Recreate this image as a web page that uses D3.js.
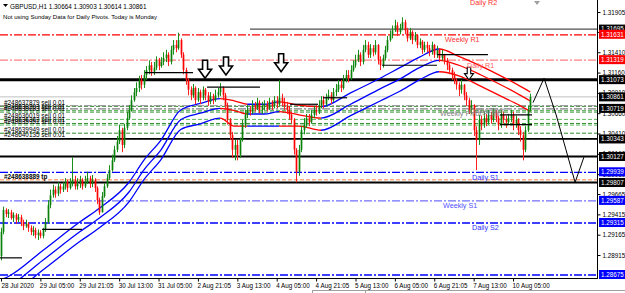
<!DOCTYPE html>
<html><head><meta charset="utf-8">
<script src="https://cdnjs.cloudflare.com/ajax/libs/d3/7.8.5/d3.min.js"></script>
<style>html,body{margin:0;padding:0;background:#fff;overflow:hidden}svg{display:block;font-family:"Liberation Sans",Arial,sans-serif}</style>
</head><body>
<svg id="chart" width="625" height="293"></svg>
<script>
// ================= DATA =================
const symbol = "GBPUSD,H1";
const headerQuote = ["1.30664", "1.30903", "1.30614", "1.30861"];
const infoText = "Not using Sunday Data for Daily Pivots.  Today is Monday";

// hourly candles (open of each bar = previous close)
const firstOpen = 1.2890;
const closes = [1.2920,1.2947,1.2942,1.2944,1.2937,1.2941,1.2935,1.2938,1.2932,1.2927,
1.2930,1.2925,1.2920,1.2922,1.2916,1.2919,1.2915,1.2922,1.2932,1.2953,
1.2965,1.2972,1.2967,1.2976,1.2972,1.2976,1.2981,1.2974,1.2979,1.2984,
1.2976,1.2979,1.2984,1.2976,1.2981,1.2986,1.2979,1.2984,1.2974,1.2959,
1.2944,1.2964,1.2976,1.2986,1.2996,1.3008,1.3021,1.3031,1.3045,1.3027,
1.3048,1.3060,1.3070,1.3082,1.3092,1.3097,1.3107,1.3101,1.3113,1.3119,
1.3125,1.3117,1.3122,1.3131,1.3124,1.3129,1.3134,1.3138,1.3129,1.3144,
1.3150,1.3146,1.3156,1.3138,1.3119,1.3107,1.3095,1.3088,1.3097,1.3082,
1.3092,1.3085,1.3095,1.3088,1.3080,1.3087,1.3082,1.3088,1.3092,1.3097,
1.3088,1.3076,1.3058,1.3039,1.3021,1.3027,1.3015,1.3033,1.3052,1.3064,
1.3070,1.3068,1.3076,1.3072,1.3079,1.3070,1.3075,1.3077,1.3072,1.3080,
1.3075,1.3082,1.3077,1.3085,1.3080,1.3075,1.3070,1.3064,1.3058,1.3021,
1.2994,1.3021,1.3045,1.3052,1.3060,1.3055,1.3064,1.3070,1.3068,1.3076,
1.3082,1.3077,1.3085,1.3088,1.3082,1.3092,1.3095,1.3101,1.3097,1.3107,
1.3113,1.3109,1.3119,1.3125,1.3131,1.3138,1.3129,1.3144,1.3150,1.3138,
1.3146,1.3141,1.3150,1.3131,1.3125,1.3134,1.3144,1.3156,1.3162,1.3168,
1.3174,1.3166,1.3171,1.3178,1.3168,1.3158,1.3166,1.3156,1.3162,1.3150,
1.3154,1.3144,1.3150,1.3146,1.3141,1.3150,1.3138,1.3144,1.3134,1.3138,
1.3131,1.3125,1.3119,1.3113,1.3107,1.3101,1.3095,1.3101,1.3088,1.3082,
1.3070,1.3076,1.3045,1.3033,1.3058,1.3052,1.3060,1.3055,1.3064,1.3058,
1.3068,1.3060,1.3052,1.3064,1.3058,1.3055,1.3060,1.3064,1.3052,1.3058,
1.3045,1.3039,1.3021,1.3045,1.3070,1.3086];
const highs = [1.2925,1.2951,1.2949,1.2948,1.2947,1.2944,1.2943,1.2942,1.2941,1.2935,
1.2935,1.2932,1.2928,1.2927,1.2925,1.2923,1.2922,1.2925,1.2937,1.2959,
1.2972,1.2978,1.2976,1.2981,1.2979,1.2981,1.2986,1.2984,1.2986,1.3012,
1.2989,1.2986,1.2989,1.2986,1.2989,1.2994,1.2989,1.2990,1.2986,1.2976,
1.2962,1.2969,1.2980,1.2991,1.3002,1.3015,1.3026,1.3038,1.3052,1.3048,
1.3053,1.3068,1.3076,1.3088,1.3097,1.3104,1.3112,1.3113,1.3119,1.3124,
1.3131,1.3129,1.3129,1.3136,1.3134,1.3135,1.3141,1.3144,1.3141,1.3149,
1.3156,1.3156,1.3165,1.3158,1.3141,1.3122,1.3109,1.3099,1.3102,1.3099,
1.3097,1.3095,1.3099,1.3097,1.3092,1.3092,1.3090,1.3095,1.3097,1.3103,
1.3099,1.3091,1.3079,1.3060,1.3043,1.3033,1.3033,1.3036,1.3058,1.3070,
1.3076,1.3075,1.3082,1.3080,1.3085,1.3082,1.3080,1.3082,1.3081,1.3085,
1.3082,1.3087,1.3087,1.3107,1.3090,1.3085,1.3080,1.3075,1.3068,1.3060,
1.3023,1.3027,1.3050,1.3060,1.3065,1.3065,1.3070,1.3075,1.3076,1.3082,
1.3087,1.3087,1.3090,1.3095,1.3092,1.3097,1.3102,1.3107,1.3107,1.3113,
1.3119,1.3119,1.3125,1.3131,1.3138,1.3144,1.3141,1.3150,1.3156,1.3154,
1.3151,1.3150,1.3156,1.3151,1.3136,1.3138,1.3149,1.3161,1.3168,1.3174,
1.3181,1.3178,1.3176,1.3184,1.3181,1.3171,1.3171,1.3168,1.3166,1.3163,
1.3158,1.3156,1.3154,1.3154,1.3150,1.3154,1.3151,1.3149,1.3146,1.3144,
1.3139,1.3134,1.3129,1.3122,1.3117,1.3109,1.3104,1.3107,1.3102,1.3092,
1.3085,1.3082,1.3077,1.3050,1.3064,1.3063,1.3068,1.3065,1.3070,1.3068,
1.3072,1.3070,1.3063,1.3070,1.3068,1.3063,1.3065,1.3070,1.3068,1.3063,
1.3060,1.3050,1.3043,1.3050,1.3075,1.3090];
const lows = [1.2885,1.2917,1.2938,1.2937,1.2935,1.2932,1.2930,1.2932,1.2927,1.2922,
1.2925,1.2920,1.2916,1.2915,1.2912,1.2910,1.2912,1.2912,1.2920,1.2930,
1.2949,1.2962,1.2962,1.2964,1.2967,1.2969,1.2972,1.2969,1.2972,1.2976,
1.2972,1.2972,1.2974,1.2972,1.2974,1.2979,1.2974,1.2975,1.2969,1.2954,
1.2941,1.2944,1.2962,1.2974,1.2984,1.2994,1.3006,1.3018,1.3028,1.3018,
1.3023,1.3045,1.3058,1.3068,1.3080,1.3087,1.3092,1.3095,1.3097,1.3107,
1.3114,1.3112,1.3113,1.3119,1.3119,1.3122,1.3125,1.3129,1.3124,1.3126,
1.3138,1.3141,1.3144,1.3134,1.3114,1.3101,1.3088,1.3082,1.3085,1.3077,
1.3080,1.3077,1.3082,1.3082,1.3075,1.3077,1.3077,1.3080,1.3085,1.3087,
1.3082,1.3070,1.3052,1.3033,1.3011,1.3008,1.3008,1.3011,1.3031,1.3048,
1.3060,1.3063,1.3065,1.3068,1.3070,1.3066,1.3065,1.3070,1.3068,1.3070,
1.3070,1.3072,1.3072,1.3075,1.3075,1.3070,1.3065,1.3058,1.3053,1.3015,
1.2981,1.2989,1.3018,1.3040,1.3048,1.3050,1.3053,1.3060,1.3063,1.3065,
1.3072,1.3072,1.3075,1.3082,1.3077,1.3080,1.3087,1.3092,1.3092,1.3095,
1.3104,1.3104,1.3107,1.3117,1.3122,1.3129,1.3124,1.3126,1.3141,1.3134,
1.3134,1.3136,1.3138,1.3126,1.3119,1.3122,1.3131,1.3141,1.3154,1.3158,
1.3166,1.3161,1.3163,1.3168,1.3163,1.3154,1.3156,1.3151,1.3154,1.3146,
1.3146,1.3139,1.3141,1.3141,1.3136,1.3138,1.3134,1.3134,1.3129,1.3131,
1.3126,1.3119,1.3114,1.3107,1.3102,1.3095,1.3087,1.3090,1.3082,1.3075,
1.3065,1.3065,1.3038,1.2996,1.3027,1.3045,1.3048,1.3050,1.3052,1.3053,
1.3055,1.3055,1.3045,1.3048,1.3053,1.3048,1.3052,1.3055,1.3045,1.3048,
1.3039,1.3031,1.3008,1.3018,1.3043,1.3068];

// time axis
const dateLabels = ["28 Jul 2020","29 Jul 05:00","29 Jul 21:05","30 Jul 13:00","31 Jul 05:00","2 Aug 21:05","3 Aug 13:00","4 Aug 05:00","4 Aug 21:05","5 Aug 13:00","6 Aug 05:00","6 Aug 21:05","7 Aug 13:00","10 Aug 05:00"];
const dateLabelBars = [0,16,32,48,64,80,96,112,128,144,160,176,192,208];
// price axis
const priceTicks = ["1.31905","1.31660","1.31410","1.31160","1.30910","1.30660","1.30410","1.30160","1.29910","1.29665","1.29415","1.29165","1.28915"];

// moving-average channel (bar index, price)
const maBars  = [0,3,17,32,40,52,58,65,73,81,89,95,100,107,113,121,130,142,154,162,170,178,186,195,203,211,215];
const maUpper = [1.2861,1.2865,1.2897,1.2932,1.2949,1.2981,1.3008,1.3033,1.3070,1.3078,1.3084,1.3081,1.3077,1.3077,1.3080,1.3076,1.3074,1.3091,1.3109,1.3122,1.3135,1.3145,1.3136,1.3124,1.3112,1.3099,1.3092];
const maMid   = [1.2849,1.2853,1.2885,1.2920,1.2937,1.2969,1.2996,1.3021,1.3058,1.3066,1.3072,1.3069,1.3065,1.3065,1.3068,1.3064,1.3060,1.3077,1.3096,1.3108,1.3122,1.3131,1.3125,1.3113,1.3101,1.3088,1.3081];
const maLower = [1.2837,1.2841,1.2873,1.2908,1.2925,1.2957,1.2984,1.3009,1.3046,1.3053,1.3060,1.3050,1.3050,1.3050,1.3050,1.3050,1.3045,1.3063,1.3081,1.3093,1.3107,1.3117,1.3112,1.3099,1.3087,1.3075,1.3068];
const maFallingRanges = [[89,100],[113,130],[178,216]];

// pivot levels
const pivotNames  = ["Daily R2","Weekly R1","Daily R1","Daily Pivot","Weekly Pivot Point","Daily S1","Weekly S1","Daily S2","Weekly S2"];
const pivotPrices = [1.32095,1.31631,1.31319,1.30760,1.30719,1.29939,1.29587,1.29315,1.28675];
// support / resistance lines, bid
const srPrices = [1.31695,1.31073,1.30343,1.30127,1.29807];
const bidPrice = 1.30861;
// open orders
const orderTickets = ["#248637879 sell 0.01","#248638203 sell 0.01","#248638283 sell 0.01","#248636019 sell 0.01","#248636363 sell 0.01","#248635951 sell 0.01","#248639949 sell 0.01","#248640135 sell 0.01"];
const orderPrices  = [1.3075,1.3070,1.3068,1.3059,1.3054,1.3052,1.3042,1.3035];
const tpTicket = "#248638889 tp";
const tpPrice = 1.2984;
// drawn horizontal segments [startBar, endBar], price
const segBars   = [[-0.4,8.5],[16.7,32.9],[58.5,78],[83.7,105.2],[117.4,128.8],[130.8,140.6],[154.8,177.1],[177.1,197.8],[202.7,215.7],[202.7,215.7]];
const segPrices = [1.2888,1.2923,1.3116,1.3098,1.3077,1.3085,1.3125,1.3138,1.3064,1.3052];
// arrows (tip bar, tip price)
const arrowBars   = [82.9,91.4,113.8,190.1];
const arrowPrices = [1.3109,1.3113,1.3117,1.3107];
// hand drawn projection path
const zigBars   = [216.1,220.6,225.5,229.5,233.2,236.8];
const zigPrices = [1.3079,1.3109,1.3064,1.3021,1.2981,1.3012];

// ================= DRAW =================
const PW = 597, PB = 278;
const svg = d3.select("#chart");
const x = d3.scaleLinear().domain([-0.4, 242.1]).range([0, PW]);
const y = d3.scaleLinear().domain([1.28632, 1.32053]).range([PB, 0]);

svg.append("rect").attr("width",625).attr("height",293).attr("fill","#fff");
svg.append("defs").append("clipPath").attr("id","plotclip")
  .append("rect").attr("x",0).attr("y",0).attr("width",PW).attr("height",PB);
const plot = svg.append("g").attr("clip-path","url(#plotclip)");

const candles = closes.map((c,i)=>({i, o: i===0?firstOpen:closes[i-1], h: highs[i], l: lows[i], c}));

// pivot styles
const pivotStyle = {
  "Daily R2":{c:"#ff3030",t:"#ff3030"},
  "Weekly R1":{c:"#ff0000",t:"#ff3030"},
  "Daily R1":{c:"#ff8080",t:"#ff6060"},
  "Daily Pivot":{c:"#a0a0a0",t:"#808080"},
  "Weekly Pivot Point":{c:"#808080",t:"#808080"},
  "Daily S1":{c:"#0000ff",t:"#3030ff"},
  "Weekly S1":{c:"#7070ff",t:"#5050ff"},
  "Daily S2":{c:"#0000ff",t:"#3030ff"},
  "Weekly S2":{c:"#0000ff",t:"#3030ff"}
};
const textX = {"Daily R2":470,"Weekly R1":445,"Daily R1":467,"Daily Pivot":470,"Weekly Pivot Point":440,"Daily S1":472,"Weekly S1":443,"Daily S2":472,"Weekly S2":-100};

// bid line
plot.append("line").attr("x1",0).attr("x2",PW).attr("y1",y(bidPrice)).attr("y2",y(bidPrice))
  .attr("stroke","#c0c0c0").attr("stroke-width",1);

// order lines
plot.selectAll(".ord").data(orderPrices).join("line")
  .attr("x1",0).attr("x2",PW).attr("y1",d=>y(d)+0.5).attr("y2",d=>y(d)+0.5)
  .attr("stroke",(d,i)=> i%2? "#5cb85c":"#2e8b2e").attr("stroke-width",1).attr("stroke-dasharray","4,2");
plot.append("line").attr("x1",0).attr("x2",PW).attr("y1",y(tpPrice)).attr("y2",y(tpPrice))
  .attr("stroke","#ff8040").attr("stroke-width",1).attr("stroke-dasharray","4,2");

// pivot lines
pivotNames.forEach((n,k)=>{
  const yy = y(pivotPrices[k]);
  plot.append("line").attr("x1",0).attr("x2",PW).attr("y1",yy+0.5).attr("y2",yy+0.5)
    .attr("stroke",pivotStyle[n].c).attr("stroke-width",1.3).attr("stroke-dasharray","8,2,2,2");
  if (textX[n] > 0)
    svg.append("text").attr("x",textX[n]).attr("y",Math.max(4,yy+8)).attr("font-size",7.2)
      .attr("fill",pivotStyle[n].t).text(n);
});

// S/R lines
srPrices.forEach((p,k)=>{
  const thick = k===1?3:(k===0?1.3:1.8);
  plot.append("line").attr("x1",k===0?250:0).attr("x2",PW).attr("y1",y(p)).attr("y2",y(p))
    .attr("stroke",k===0?"#505050":"#000").attr("stroke-width",thick);
});

// order texts
svg.selectAll(".ot").data(orderTickets).join("text")
  .attr("x",4).attr("y",(d,i)=>y(orderPrices[i])-1).attr("font-size",6.4).attr("fill","#000").text(d=>d);
svg.append("text").attr("x",4).attr("y",y(tpPrice)-1).attr("font-size",6.4).attr("font-weight","bold").attr("fill","#000").text(tpTicket);

// MA channel
const maSeries = [maUpper, maMid, maLower];
const defs = svg.select("defs");
const redClip = defs.append("clipPath").attr("id","redclip");
maFallingRanges.forEach(r=> redClip.append("rect").attr("x",x(r[0])).attr("y",0).attr("width",x(r[1])-x(r[0])).attr("height",PB));
const blueClip = defs.append("clipPath").attr("id","blueclip");
let prev = -1;
maFallingRanges.forEach(r=>{ blueClip.append("rect").attr("x",x(prev)).attr("y",0).attr("width",x(r[0])-x(prev)).attr("height",PB); prev=r[1]; });
blueClip.append("rect").attr("x",x(prev)).attr("y",0).attr("width",PW-x(prev)+1).attr("height",PB);
const lineGen = d3.line().x((d,i)=>x(maBars[i])).y(d=>y(d)).curve(d3.curveMonotoneX);
["blueclip","redclip"].forEach(cl=>{
  const g = plot.append("g").attr("clip-path",`url(#${cl})`);
  maSeries.forEach(s=> g.append("path").attr("d",lineGen(s)).attr("fill","none")
    .attr("stroke", cl==="blueclip"?"#0000ff":"#ff0000").attr("stroke-width",1.3));
});

// candles
const bw = 1.7;
const cg = plot.append("g");
cg.selectAll(".wick").data(candles).join("line")
  .attr("x1",d=>Math.round(x(d.i))+0.5).attr("x2",d=>Math.round(x(d.i))+0.5)
  .attr("y1",d=>y(Math.max(d.h,d.o,d.c))).attr("y2",d=>y(Math.min(d.l,d.o,d.c)))
  .attr("stroke",d=>d.c>=d.o?"#1a8f1a":"#ff2020").attr("stroke-width",1);
cg.selectAll(".body").data(candles).join("rect")
  .attr("x",d=>Math.round(x(d.i))+0.5-bw/2).attr("width",bw)
  .attr("y",d=>y(Math.max(d.o,d.c))).attr("height",d=>Math.max(1,Math.abs(y(d.o)-y(d.c))))
  .attr("fill",d=>d.c>=d.o?"#0a800a":"#ff0000");

// segments
plot.selectAll(".seg").data(segBars).join("line")
  .attr("x1",d=>x(d[0])).attr("x2",d=>x(d[1]))
  .attr("y1",(d,i)=>y(segPrices[i])).attr("y2",(d,i)=>y(segPrices[i]))
  .attr("stroke","#000").attr("stroke-width",1.2);

// arrows
arrowBars.forEach((b,k)=>{
  const s = k===3?0.7:1;
  plot.append("path").attr("transform",`translate(${x(b)},${y(arrowPrices[k])}) scale(${s})`)
    .attr("d","M0,0 L-6.5,-9 L-2.5,-9 L-2.5,-18 L2.5,-18 L2.5,-9 L6.5,-9 Z")
    .attr("fill","#fff").attr("stroke","#000").attr("stroke-width",1.6).attr("stroke-linejoin","miter");
});

// projection path
plot.append("path").attr("d", d3.line().x((d,i)=>x(zigBars[i])).y(d=>y(d)).curve(d3.curveLinear)(zigPrices))
  .attr("fill","none").attr("stroke","#000").attr("stroke-width",1);

// frame
svg.append("line").attr("x1",PW+0.5).attr("x2",PW+0.5).attr("y1",0).attr("y2",PB+1).attr("stroke","#000");
svg.append("line").attr("x1",0).attr("x2",PW+1).attr("y1",PB+0.5).attr("y2",PB+0.5).attr("stroke","#000");

// right price axis
const yAxis = d3.axisRight(y).tickValues(priceTicks.map(Number)).tickFormat((d,i)=>priceTicks[i]).tickSize(3).tickPadding(2);
const ya = svg.append("g").attr("transform",`translate(${PW+0.5},0)`).call(yAxis);
ya.select(".domain").remove();
ya.selectAll("text").attr("font-size",6.3).attr("font-family","Liberation Sans, Arial").attr("fill","#000");
ya.selectAll("line").attr("stroke","#000");

// label boxes
const boxes = [];
srPrices.forEach(p=>boxes.push({p,bg:"#000"}));
boxes.push({p:bidPrice,bg:"#000"});
boxes.push({p:pivotPrices[4],bg:"#000"});
boxes.push({p:pivotPrices[1],bg:"#ff0000"},{p:pivotPrices[2],bg:"#ff0000"});
[5,6,7,8].forEach(k=>boxes.push({p:pivotPrices[k],bg:"#0000ff"}));
const bg = svg.append("g");
boxes.forEach(b=>{
  const yy = y(b.p);
  bg.append("rect").attr("x",PW+2).attr("y",yy-4.5).attr("width",26).attr("height",9).attr("fill",b.bg);
  bg.append("text").attr("x",PW+4).attr("y",yy+2.3).attr("font-size",6.3).attr("fill","#fff").text(b.p.toFixed(5));
});

// bottom time axis
const xAxis = d3.axisBottom(x).tickValues(dateLabelBars).tickFormat((d,i)=>dateLabels[i]).tickSize(3).tickPadding(2);
const xa = svg.append("g").attr("transform",`translate(0,${PB+0.5})`).call(xAxis);
xa.select(".domain").remove();
xa.selectAll("text").attr("font-size",6.3).attr("text-anchor","start").attr("dx",(d,i)=> i===0?"0":"-1").attr("fill","#000");
xa.selectAll("line").attr("stroke","#000");

// header
svg.append("path").attr("d","M3,4 L8,4 L5.5,7 Z").attr("fill","#000");
svg.append("text").attr("x",10).attr("y",9).attr("font-size",6.4).attr("fill","#000")
  .text(symbol + "  " + headerQuote.join(" "));
svg.append("text").attr("x",3).attr("y",18.5).attr("font-size",6.1).attr("fill","#000").text(infoText);

// shift marker
svg.append("path").attr("d","M534,1 L540,1 L537,5 Z").attr("fill","#a0a0a0");

// bottom tab strip
svg.append("line").attr("x1",365).attr("x2",625).attr("y1",290.5).attr("y2",290.5).attr("stroke","#a0a0a0");
svg.append("rect").attr("x",312.5).attr("y",290.5).attr("width",53).attr("height",4).attr("fill","#fff").attr("stroke","#a0a0a0");
</script>
</body></html>
